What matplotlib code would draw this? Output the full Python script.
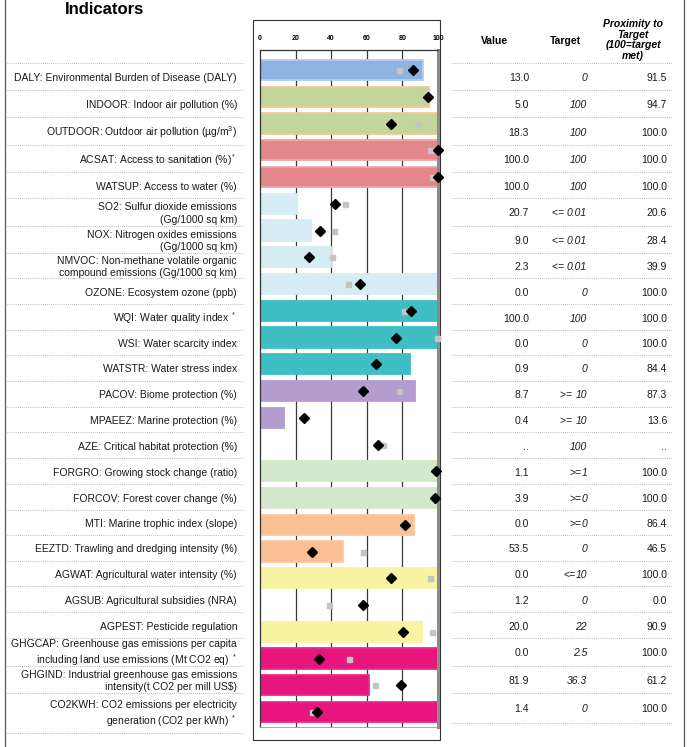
import matplotlib
matplotlib.use('Agg')
import matplotlib.pyplot as plt
from matplotlib.patches import Rectangle
import numpy as np

plt.rcParams['font.family'] = ['Liberation Sans', 'DejaVu Sans']
plt.rcParams['mathtext.fontset'] = 'custom'
plt.rcParams['mathtext.rm'] = 'Liberation Sans'
plt.rcParams['mathtext.it'] = 'Liberation Sans:italic'
plt.rcParams['mathtext.bf'] = 'Liberation Sans:bold'

# ---------------- data ----------------
labels = [
    "DALY: Environmental Burden of Disease (DALY)",
    "INDOOR: Indoor air pollution (%)",
    "OUTDOOR: Outdoor air pollution (µg/m$^3$)",
    "ACSAT: Access to sanitation (%)$^*$",
    "WATSUP: Access to water (%)",
    "SO2: Sulfur dioxide emissions\n(Gg/1000 sq km)",
    "NOX: Nitrogen oxides emissions\n(Gg/1000 sq km)",
    "NMVOC: Non-methane volatile organic\ncompound emissions (Gg/1000 sq km)",
    "OZONE: Ecosystem ozone (ppb)",
    "WQI: Water quality index $^*$",
    "WSI: Water scarcity index",
    "WATSTR: Water stress index",
    "PACOV: Biome protection (%)",
    "MPAEEZ: Marine protection (%)",
    "AZE: Critical habitat protection (%)",
    "FORGRO: Growing stock change (ratio)",
    "FORCOV: Forest cover change (%)",
    "MTI: Marine trophic index (slope)",
    "EEZTD: Trawling and dredging intensity (%)",
    "AGWAT: Agricultural water intensity (%)",
    "AGSUB: Agricultural subsidies (NRA)",
    "AGPEST: Pesticide regulation",
    "GHGCAP: Greenhouse gas emissions per capita\nincluding land use emissions (Mt CO2 eq) $^*$",
    "GHGIND: Industrial greenhouse gas emissions\nintensity(t CO2 per mill US$)",
    "CO2KWH: CO2 emissions per electricity\ngeneration (CO2 per kWh) $^*$",
]

values = ["13.0", "5.0", "18.3", "100.0", "100.0", "20.7", "9.0", "2.3", "0.0",
          "100.0", "0.0", "0.9", "8.7", "0.4", "..", "1.1", "3.9", "0.0", "53.5",
          "0.0", "1.2", "20.0", "0.0", "81.9", "1.4"]

target_ops = ["", "", "", "", "", "<= ", "<= ", "<= ", "", "", "", "", ">= ", ">= ",
              "", ">=", ">=", ">=", "", "<=", "", "", "", "", ""]
target_nums = ["0", "100", "100", "100", "100", "0.01", "0.01", "0.01", "0", "100",
               "0", "0", "10", "10", "100", "1", "0", "0", "0", "10", "0", "22",
               "2.5", "36.3", "0"]

proximity = [91.5, 94.7, 100.0, 100.0, 100.0, 20.6, 28.4, 39.9, 100.0, 100.0,
             100.0, 84.4, 87.3, 13.6, np.nan, 100.0, 100.0, 86.4, 46.5, 100.0,
             0.0, 90.9, 100.0, 61.2, 100.0]

# black diamonds
diamonds = [86, 94.4, 73.4, 99.8, 100, 42, 33.7, 27.7, 56.2, 84.6, 76.2, 65.2,
            58, 24.7, 66.5, 98.9, 98.5, 81.6, 29.2, 73.4, 58, 80.5, 33, 79.2, 32.2]
# grey squares
squares = [78, 92, 89, 95.5, 96.6, 47.6, 41.8, 40.6, 49.6, 80.9, 99.2, np.nan,
           77.9, np.nan, 69.3, np.nan, np.nan, 79.6, 57.7, 95.5, 38.6, 96.4,
           49.8, 64.6, 29]

tick_values = [0, 20, 40, 60, 80, 100]
tick_labels = ["0", "20", "40", "60", "80", "100"]

# group colours (fill, edge)
blue = ("#8db3e2", "#b3cdee")
green_or = ("#c3d69b", "#f9c595")
red = ("#e4878a", "#eda5a6")
lblue = ("#d6ecf4", "#d6ecf4")
teal = ("#3fbec4", "#3fbec4")
purple = ("#b49ccf", "#b49ccf")
lgreen = ("#d4e8cc", "#d4e8cc")
peach = ("#fbbf94", "#fbc8a2")
yellow = ("#f8f3a0", "#f8f3a0")
magenta = ("#e8157f", "#ea2a8a")
groups = [blue, green_or, green_or, red, red, lblue, lblue, lblue, lblue, teal,
          teal, teal, purple, purple, purple, lgreen, lgreen, peach, peach,
          yellow, yellow, yellow, magenta, magenta, magenta]

# ---------------- layout ----------------
W, H = 687, 747
fig = plt.figure(figsize=(W / 100, H / 100), dpi=100)
bg = fig.add_axes([0, 0, 1, 1])
bg.set_xlim(0, W)
bg.set_ylim(H, 0)
bg.axis('off')
renderer = fig.canvas.get_renderer()

right_edges = [63, 90, 117, 145, 172, 198, 226, 253, 278, 304, 330, 355, 381, 407,
               432, 458, 484, 510, 535, 561, 586, 612, 638, 666, 693, 723]
left_edges = right_edges[:-1] + [733]

txt_col = '#1a1a1a'
fs = 7.45

# outer borders
bg.plot([5, 5], [0, H], color='#555555', lw=0.9)
bg.plot([684, 684], [0, H], color='#555555', lw=0.9)
# chart frame
bg.add_patch(Rectangle((253, 20), 187, 720, fill=False, ec='#333333', lw=0.8))

bg.text(104, 13.5, "Indicators", fontsize=12, fontweight='bold', ha='center',
        va='baseline', color='black')

dot = (0, (1, 1.5))
for e in left_edges:
    bg.plot([7, 243], [e, e], color='#a0a0a0', lw=0.6, ls=dot)
for e in right_edges:
    bg.plot([452, 673], [e, e], color='#a0a0a0', lw=0.6, ls=dot)

for i, lab in enumerate(labels):
    yc = (left_edges[i] + left_edges[i + 1]) / 2 + 1.5
    bg.text(237, yc, lab, fontsize=fs, ha='right', va='center', color=txt_col,
            multialignment='right', linespacing=1.3)

bg.text(494, 41, "Value", fontsize=fs, fontweight='bold', ha='center', va='center')
bg.text(565, 41, "Target", fontsize=fs, fontweight='bold', ha='center', va='center')
bg.text(633, 40, "Proximity to\nTarget\n(100=target\nmet)", fontsize=fs,
        fontweight='bold', style='italic', ha='center', va='center', linespacing=1.05)

for i in range(len(values)):
    yc = (right_edges[i] + right_edges[i + 1]) / 2 + 1.5
    bg.text(529, yc, values[i], fontsize=fs, ha='right', va='center', color=txt_col)
    tn = bg.text(587, yc, target_nums[i], fontsize=fs, ha='right', va='center',
                 style='italic', color=txt_col)
    if target_ops[i]:
        bb = tn.get_window_extent(renderer)
        x_left = bg.transData.inverted().transform((bb.x0, bb.y0))[0]
        bg.text(x_left, yc, target_ops[i], fontsize=fs, ha='right', va='center',
                color=txt_col)
    prox_s = ".." if np.isnan(proximity[i]) else f"{proximity[i]:.1f}"
    bg.text(667, yc, prox_s, fontsize=fs, ha='right', va='center', color=txt_col)

# ---------------- chart ----------------
ax = fig.add_axes([260 / W, 1 - 727 / H, 178 / W, 677 / H])
ax.set_facecolor('none')
y = np.arange(len(labels))
prox_arr = np.array(proximity)
ax.barh(y, np.nan_to_num(prox_arr), height=0.75,
        color=[g[0] for g in groups], edgecolor=[g[1] for g in groups],
        linewidth=1.3, zorder=2)
for v in tick_values[1:-1]:
    ax.axvline(v, color='#3a3a3a', lw=0.9, zorder=1)
ax.plot(squares, y, 's', color='#c4c4c4', ms=3.6, ls='none', zorder=3, clip_on=False)
ax.plot(diamonds, y, 'D', color='black', ms=5.2, ls='none', zorder=4, clip_on=False)

ax.set_xlim(0, 100)
ax.set_ylim(24.56, -0.748)
ax.xaxis.tick_top()
ax.set_xticks(tick_values)
ax.set_xticklabels(tick_labels, fontsize=5, fontweight='bold')
ax.tick_params(axis='x', length=0, pad=6)
ax.set_yticks([])
ax.spines['left'].set_color('#333333')
ax.spines['left'].set_linewidth(0.9)
ax.spines['top'].set_color('#333333')
ax.spines['top'].set_linewidth(0.9)
ax.spines['right'].set_color('#8c8c8c')
ax.spines['right'].set_linewidth(2.2)
ax.spines['bottom'].set_color('#9a9a9a')
ax.spines['bottom'].set_linewidth(0.6)

fig.savefig('out.png', dpi=100)
